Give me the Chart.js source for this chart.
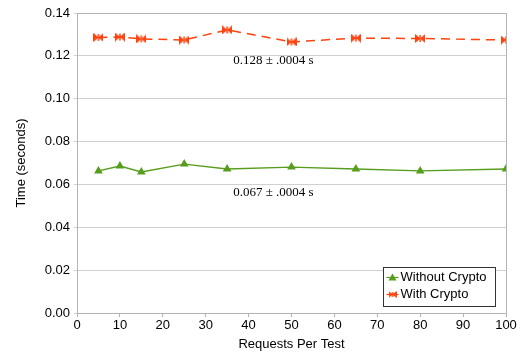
<!DOCTYPE html>
<html>
<head>
<meta charset="utf-8">
<script src="https://cdn.jsdelivr.net/npm/chart.js@4"></script>
<style>
  html, body { margin: 0; padding: 0; background: #fff; }
  #wrap { width: 523px; height: 352px; }
</style>
</head>
<body>
<div id="wrap"><canvas id="cv" width="523" height="352"></canvas></div>
<script>
// data
const requests      = [5, 10, 15, 25, 35, 50, 65, 80, 100];
const withoutCrypto = [0.0663, 0.0686, 0.0658, 0.0695, 0.0672, 0.0681, 0.0672, 0.0663, 0.0672];
const withCrypto    = [0.1286, 0.1288, 0.1279, 0.1274, 0.1321, 0.1265, 0.1283, 0.1281, 0.1274];
const seriesNames   = ['Without Crypto', 'With Crypto'];
const notes = [
  { text: '0.128 \u00b1 .0004 s', x: 36.4, y: 0.1176 },
  { text: '0.067 \u00b1 .0004 s', x: 36.4, y: 0.0560 }
];

const GREEN = '#579d1c', RED = '#ff420e';

// bow-tie marker for the red series
function bowtie(color, w, h) {
  const c = document.createElement('canvas');
  c.width = w; c.height = h;
  const g = c.getContext('2d');
  g.fillStyle = color; g.strokeStyle = color; g.lineWidth = 1.5;
  g.beginPath(); g.moveTo(0, 0); g.lineTo(w/2, h/2); g.lineTo(0, h); g.closePath(); g.fill();
  g.beginPath(); g.moveTo(w, 0); g.lineTo(w/2, h/2); g.lineTo(w, h); g.closePath(); g.fill();
  g.beginPath(); g.moveTo(w/2, 1); g.lineTo(w/2, h-1); g.stroke();
  return c;
}
const tieImg = bowtie(RED, 10, 9);
const tieSmall = bowtie(RED, 8, 7);

const framePlugin = {
  id: 'frame',
  afterDatasetsDraw(chart) {
    const { ctx, chartArea: a, scales } = chart;
    ctx.save();
    ctx.strokeStyle = '#b3b3b3'; ctx.lineWidth = 1;
    ctx.strokeRect(Math.round(a.left) + 0.5, Math.round(a.top) + 0.5,
                   Math.round(a.right - a.left), Math.round(a.bottom - a.top));
    // notes
    ctx.fillStyle = '#000';
    ctx.font = '13px "Liberation Serif", "DejaVu Serif", serif';
    ctx.textBaseline = 'middle'; ctx.textAlign = 'left';
    notes.forEach(n => ctx.fillText(n.text, scales.x.getPixelForValue(n.x), scales.y.getPixelForValue(n.y)));
    // legend box inside plot, bottom-right
    const bx = 383.5, by = 267.5, bw = 112, bh = 39;
    ctx.fillStyle = '#fff'; ctx.fillRect(bx, by, bw, bh);
    ctx.strokeStyle = '#333'; ctx.strokeRect(bx, by, bw, bh);
    ctx.font = '13px "Liberation Sans", Arial, sans-serif';
    seriesNames.forEach((name, i) => {
      const y = by + 10 + i * 17;
      const col = i === 0 ? GREEN : RED;
      ctx.strokeStyle = col; ctx.lineWidth = 1.2;
      ctx.beginPath(); ctx.moveTo(bx + 3, y); ctx.lineTo(bx + 15, y); ctx.stroke();
      if (i === 0) {
        ctx.fillStyle = col;
        ctx.beginPath(); ctx.moveTo(bx + 9, y - 4); ctx.lineTo(bx + 13, y + 3); ctx.lineTo(bx + 5, y + 3); ctx.closePath(); ctx.fill();
      } else {
        ctx.drawImage(tieSmall, bx + 5, y - 3.5);
      }
      ctx.fillStyle = '#000';
      ctx.fillText(name, bx + 17, y);
    });
    ctx.restore();
  }
};

const tickFont = { family: '"Liberation Sans", Arial, sans-serif', size: 13 };

new Chart(document.getElementById('cv'), {
  type: 'line',
  data: {
    datasets: [
      {
        label: seriesNames[0],
        data: requests.map((x, i) => ({ x, y: withoutCrypto[i] })),
        borderColor: GREEN, backgroundColor: GREEN, borderWidth: 1.3,
        pointStyle: 'triangle', pointRadius: 5, pointBorderWidth: 0,
        tension: 0
      },
      {
        label: seriesNames[1],
        data: requests.map((x, i) => ({ x, y: withCrypto[i] })),
        borderColor: RED, backgroundColor: RED, borderWidth: 1.5,
        borderDash: [9, 6],
        pointStyle: tieImg, pointRadius: 5,
        tension: 0
      }
    ]
  },
  options: {
    responsive: false,
    animation: false,
    layout: { padding: { top: 13, right: 17, left: 10, bottom: 0 } },
    plugins: { legend: { display: false }, tooltip: { enabled: false } },
    scales: {
      x: {
        type: 'linear', min: 0, max: 100,
        ticks: { stepSize: 10, color: '#000', font: tickFont, padding: 1, maxRotation: 0 },
        grid: { drawOnChartArea: false, color: '#b3b3b3', tickLength: 4 },
        border: { color: '#b3b3b3' },
        title: { display: true, text: 'Requests Per Test', color: '#000', font: tickFont, padding: 0 },
        afterFit: s => { s.height = 39; }
      },
      y: {
        min: 0, max: 0.14,
        ticks: { stepSize: 0.02, color: '#000', font: tickFont, padding: 4, callback: v => v.toFixed(2) },
        grid: { color: '#d0d0d0', tickLength: 3 },
        border: { color: '#b3b3b3' },
        title: { display: true, text: 'Time (seconds)', color: '#000', font: tickFont, padding: 4 },
        afterFit: s => { s.width = 67; }
      }
    }
  },
  plugins: [framePlugin]
});
</script>
</body>
</html>
